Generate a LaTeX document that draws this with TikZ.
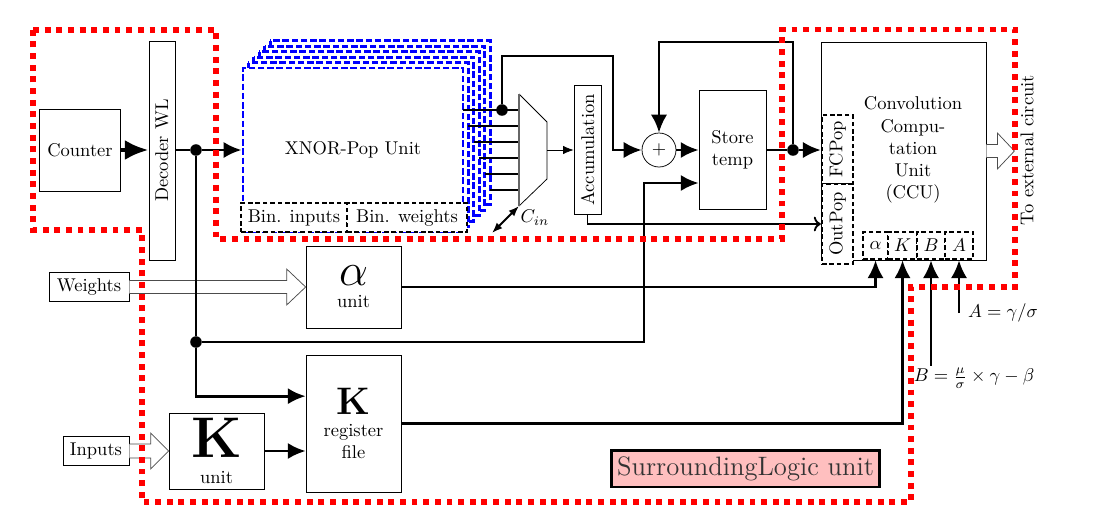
\documentclass[tikz,border=0pt]{standalone}
\usetikzlibrary{arrows.meta,calc,positioning}
\tikzset{
  box/.style={draw, inner sep=0pt, align=center},
  dbox/.style={draw, fill=white, line width=1.3pt, dash pattern=on 2.5pt off 1.5pt, inner sep=0pt},
  dot/.style={circle, fill, inner sep=0pt, minimum size=0.22cm},
  wire/.style={ultra thick},
  bigarr/.style={ultra thick, -{Latex[length=3.4mm,width=3.1mm]}},
  hollow/.style={draw=black!70, fill=white},
  layer/.style={draw=blue, fill=white, line width=1.6pt, dash pattern=on 3.5pt off 1.5pt},
  region/.style={draw=red, line width=3.2pt, dash pattern=on 3.2pt off 3.1pt},
}
\begin{document}
\begin{tikzpicture}
\useasboundingbox (0,0) rectangle (20.767,-9.823);
% counter and decoder
\node[box, minimum width=1.539cm, minimum height=1.558cm] (counter) at (1.52,-2.85) {Counter};
\node[box, minimum width=0.494cm, minimum height=4.161cm] (decoder) at (3.078,-2.86) {\rotatebox{90}{Decoder WL}};
\draw[line width=2.5pt, -{Latex[length=4.5mm,width=3.8mm]}] (counter.east) -- (counter.east -| decoder.west);

% XNOR-Pop stack
\foreach \i in {5,...,1}
  \draw[layer] (4.617+0.103*\i,-1.292+0.103*\i) rectangle ++(4.18,-3.116);
\node[layer, minimum width=4.18cm, minimum height=3.116cm] (xnor) at (6.707,-2.85) {XNOR-Pop Unit};
\node[dbox, minimum width=2.014cm, minimum height=0.551cm] (bini) at (5.586,-4.133) {Bin. inputs};
\node[dbox, minimum width=2.28cm, minimum height=0.551cm] (binw) at (7.733,-4.133) {Bin. weights};

% mux
\coordinate (m1) at (9.861,-1.786);
\coordinate (m2) at (10.393,-2.318);
\coordinate (m3) at (10.393,-3.401);
\coordinate (m4) at (9.861,-3.914);
\coordinate (mout) at (10.393,-2.85);
\foreach \i in {0,...,5}
  \draw[wire] (8.797+0.103*\i,-2.09-0.304*\i) -- (9.861,-2.09-0.304*\i);
\draw (m1) -- (m2) -- (m3) -- (m4);
\draw[black!60, line width=1pt] (m1) -- (m4);
\node[dot] (j2) at (9.538,-2.09) {};
\coordinate (cin) at (9.348,-4.427);
\draw[line width=1pt, {Latex[length=2mm]}-{Latex[length=2mm]}] (cin) -- (m4);
\node (cinlbl) at (10.165,-4.142) {$C_{in}$};

% accumulation, adder, store
\node[box, minimum width=0.513cm, minimum height=2.451cm] (accu) at (11.163,-2.85) {\rotatebox{90}{Accumulation}};
\draw[-{Latex[length=2mm,width=1.6mm]}] (mout) -- (accu.west);
\node[draw, circle, minimum size=0.646cm, inner sep=0pt] (sum) at (12.521,-2.85) {$+$};
\draw[bigarr] (j2) |- (11.647,-1.064) |- (sum.west);
\node[box, minimum width=1.273cm, minimum height=2.261cm] (store) at (13.918,-2.85) {Store\\temp};
\draw[bigarr] (sum.east) -- (store.west);
\node[dot] (j3) at (15.067,-2.85) {};
\draw[wire] (store.east) -- (j3);
\draw[bigarr] (j3) |- (sum.north |- 0,-0.798) -- (sum.north);

% CCU
\node[box, minimum width=3.135cm, minimum height=4.142cm] (ccu) at (17.167,-2.869) {};
\node[align=center] (ccutxt) at (17.347,-2.85) {Convolution\\Compu-\\tation\\Unit\\(CCU)};
\node[dbox, minimum width=0.589cm, minimum height=1.311cm] (fcpop) at (15.913,-2.841) {\rotatebox{90}{FCPop}};
\node[dbox, minimum width=0.589cm, minimum height=1.52cm] (outpop) at (15.913,-4.256) {\rotatebox{90}{OutPop}};
\draw[bigarr] (j3) -- (j3 -| fcpop.west);
\draw[line width=1pt, ->] (accu.south) |- (outpop.west);
\node[dbox, minimum width=0.475cm, minimum height=0.513cm] (boxal) at (16.635,-4.665) {$\alpha$};
\node[dbox, minimum width=0.551cm, minimum height=0.513cm] (boxK) at (17.148,-4.665) {$K$};
\node[dbox, minimum width=0.532cm, minimum height=0.513cm] (boxB) at (17.689,-4.665) {$B$};
\node[dbox, minimum width=0.532cm, minimum height=0.513cm] (boxA) at (18.221,-4.665) {$A$};
\coordinate (ext) at ($(ccu.east)+(0.532,0)$);
\draw[hollow] ($(ccu.east)+(0,0.124)$) -- ($(ext)+(-0.323,0.124)$) -- ($(ext)+(-0.323,0.342)$) -- (ext)
  -- ($(ext)+(-0.323,-0.342)$) -- ($(ext)+(-0.323,-0.124)$) -- ($(ccu.east)+(0,-0.124)$);
\node[rotate=90] (extlbl) at (19.513,-2.85) {To external circuit};

% surrounding logic
\node[box, minimum width=1.52cm, minimum height=0.551cm] (wts) at (1.691,-5.453) {Weights};
\node[box, minimum width=1.805cm, minimum height=1.558cm] (aunit) at (6.717,-5.453) {{\fontsize{28}{28}\selectfont$\alpha$}\\unit};
\node[box, minimum width=1.254cm, minimum height=0.551cm] (inp) at (1.824,-8.569) {Inputs};
\node[box, minimum width=1.805cm, minimum height=1.444cm] (kunit) at (4.114,-8.569) {{\fontsize{31}{31}\selectfont\bfseries K}\\[2pt]unit};
\node[box, minimum width=1.805cm, minimum height=2.603cm] (kreg) at (6.717,-8.047) {{\huge\bfseries K}\\register\\file};
\draw[hollow] ($(wts.east)+(0,0.124)$) -- ($(aunit.west)+(-0.361,0.124)$) -- ($(aunit.west)+(-0.361,0.342)$) -- (aunit.west)
  -- ($(aunit.west)+(-0.361,-0.342)$) -- ($(aunit.west)+(-0.361,-0.124)$) -- ($(wts.east)+(0,-0.124)$);
\draw[hollow] ($(inp.east)+(0,0.133)$) -- ($(kunit.west)+(-0.342,0.133)$) -- ($(kunit.west)+(-0.342,0.342)$) -- (kunit.west)
  -- ($(kunit.west)+(-0.342,-0.342)$) -- ($(kunit.west)+(-0.342,-0.133)$) -- ($(inp.east)+(0,-0.133)$);
\node[dot] (j1) at (3.724,-2.85) {};
\draw[wire] (decoder.east |- j1) -- (j1);
\draw[bigarr] (j1) -- (xnor.west);
\node[dot] (j4) at (3.724,-6.498) {};
\draw[wire] (j1) -- (j4);
\draw[bigarr] (j4) |- ($(kreg.west)+(0,0.52)$);
\coordinate (c1) at (12.236,-3.477);
\draw[bigarr] (j4) -| (c1) -- (c1 -| store.west);
\draw[bigarr] (kunit.east) -- (kunit.east -| kreg.west);
\draw[bigarr] (aunit.east) -| (boxal.south);
\draw[bigarr] (kreg.east) -| (boxK.south);
\node[inner sep=1pt] (lblA) at (19.057,-5.947) {$A=\gamma/\sigma$};
\draw[bigarr] (boxA.south |- lblA) -- (boxA.south);
\node[inner sep=1pt] (lblB) at (18.506,-7.182) {$B=\frac{\mu}{\sigma}\times\gamma-\beta$};
\draw[bigarr] (boxB.south |- lblB.north) -- (boxB.south);
\node[draw, line width=1.5pt, fill=red!25, text=black!80, minimum height=0.7cm, inner xsep=3pt, font=\Large] (slu) at (14.165,-8.902) {SurroundingLogic unit};

% region outline
\draw[region] (0.627,-0.57) -- (4.104,-0.57) -- (4.104,-4.541) -- (14.858,-4.541) -- (14.858,-0.56)
  -- (19.285,-0.56) -- (19.285,-5.453) -- (17.309,-5.453) -- (17.309,-9.538) -- (2.698,-9.538)
  -- (2.698,-4.37) -- (0.627,-4.37) -- cycle;
\end{tikzpicture}
\end{document}
